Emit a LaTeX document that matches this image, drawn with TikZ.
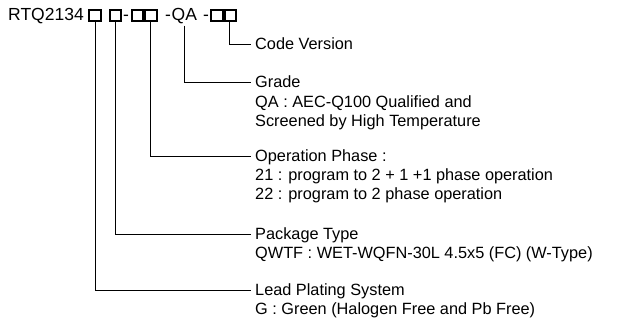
\documentclass[tikz,border=0pt]{standalone}
\usepackage{fontspec}
\setmainfont{Liberation Sans}
\usetikzlibrary{positioning, calc}

\begin{document}
\begin{tikzpicture}[x=1pt, y=-1pt,
  font=\fontsize{16.3}{19}\selectfont,
  digit/.style={draw, line width=1.6pt, minimum size=11.5pt, inner sep=0pt},
  part/.style={inner sep=0pt, anchor=base west, font=\fontsize{17.5}{19}\selectfont},
  field/.style={inner xsep=4pt, inner ysep=0pt, anchor=base west},
  detail/.style={inner xsep=4pt, inner ysep=0pt, align=left},
  lead/.style={draw, line width=0.8pt},
  ]
  \useasboundingbox (0,0) rectangle (624,326);

  % part number
  \node[part] (pn) at (8,21) {RTQ2134};
  \node[digit] (b1) at (95,15.5) {};
  \node[digit] (b2) at (115.5,15.5) {};
  \node[part] (d1) at (123,21) {-};
  \node[digit] (b3) at (137.5,15.5) {};
  \node[digit] (b4) at (151,15.5) {};
  \node[part] (d2) at (165,21) {-};
  \node[part] (qa) at (171.5,21) {QA};
  \node[part] (d3) at (203,21) {-};
  \node[digit] (b5) at (217,15.5) {};
  \node[digit] (b6) at (230.5,15.5) {};

  % fields
  \node[field] (ver) at (251,50) {Code Version};
  \node[field] (grade) at (251,88) {Grade};
  \node[detail, below=7.5pt of grade.base west, anchor=north west] (gradetxt)
    {QA : AEC-Q100 Qualified and\\Screened by High Temperature};
  \node[field] (phase) at (251,161) {Operation Phase :};
  \node[detail, below=7.5pt of phase.base west, anchor=north west] (phasetxt)
    {21 : program to 2 + 1 +1 phase operation\\22 : program to 2 phase operation};
  \node[field] (pkg) at (251,239) {Package Type};
  \node[detail, below=7.5pt of pkg.base west, anchor=north west] (pkgtxt)
    {QWTF : WET-WQFN-30L 4.5x5 (FC) (W-Type)};
  \node[field] (lead) at (251,295) {Lead Plating System};
  \node[detail, below=7.5pt of lead.base west, anchor=north west] (leadtxt)
    {G : Green (Halogen Free and Pb Free)};

  % leaders
  \draw[lead] ([xshift=-1.5pt]b6.south) |- (ver.west);
  \draw[lead] (qa.south) ++(0,1) |- (grade.west);
  \draw[lead] ([xshift=-1pt]b4.south) |- (phase.west);
  \draw[lead] (b2.south) |- (pkg.west);
  \draw[lead] (b1.south) |- (lead.west);
\end{tikzpicture}
\end{document}
